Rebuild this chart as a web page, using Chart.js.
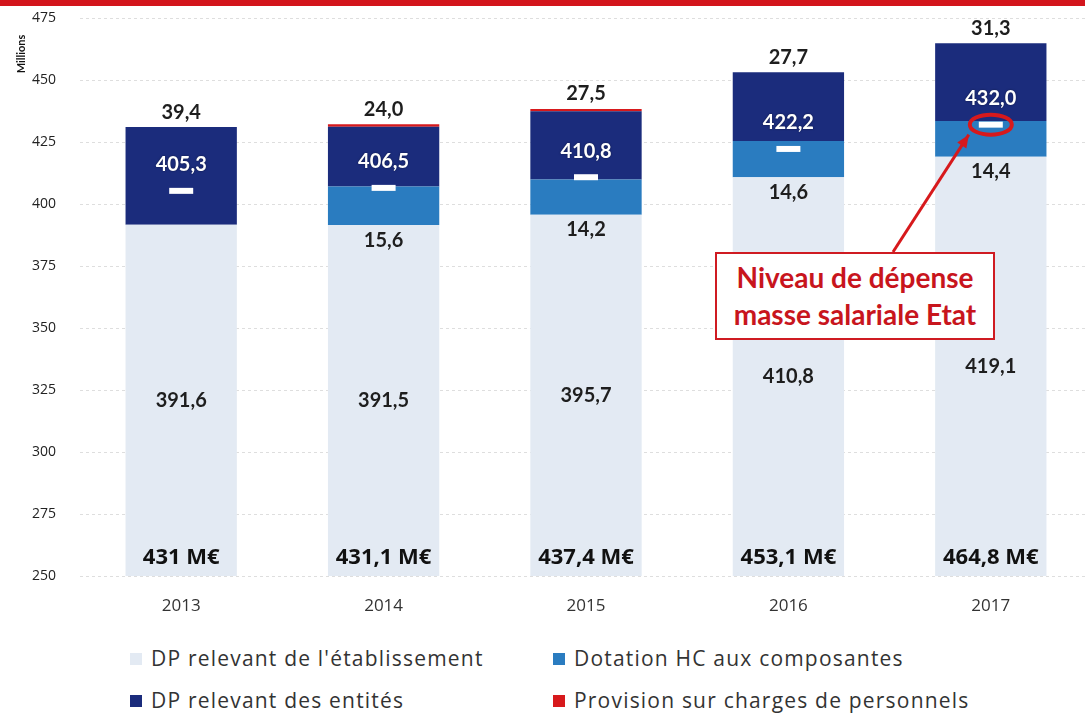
<!DOCTYPE html>
<html>
<head>
<meta charset="utf-8">
<script src="https://cdn.jsdelivr.net/npm/chart.js@4.4.0/dist/chart.umd.min.js"></script>
<style>
  body { margin: 0; background: #fff; width: 1085px; height: 720px; overflow: hidden; position: relative; font-family: 'Open Sans', sans-serif; }
  #topbar { position: absolute; left: 0; top: 0; width: 1085px; height: 6px; background: #d3151c; }
  #wrap { position: absolute; left: 0; top: 0; width: 1110px; height: 630px; }
  #note { position: absolute; left: 715px; top: 252px; width: 280px; height: 88px; box-sizing: border-box;
          border: 2px solid #cf1b22; background: #fff; color: #c8151d; font: bold 28px Lato, sans-serif;
          text-align: center; line-height: 37px; padding-top: 5px; }
  #legend { position: absolute; left: 0; top: 644px; width: 1085px; }
  .item { position: absolute; font-size: 21px; letter-spacing: 1.2px; color: #333; white-space: nowrap; }
  .item span.box { display: inline-block; width: 12px; height: 12px; margin-right: 9px; vertical-align: 1px; }
</style>
</head>
<body>
<div id="topbar"></div>
<div id="wrap"><canvas id="chart"></canvas></div>
<div id="note">Niveau de dépense<br>masse salariale Etat</div>
<div id="legend"></div>
<script>
// categories and series (millions d'euros)
var years = ['2013', '2014', '2015', '2016', '2017'];
var dpEtablissement = [391.6, 391.5, 395.7, 410.8, 419.1];
var dotationHC = [0, 15.6, 14.2, 14.6, 14.4];
var dpEntites = [39.4, 24.0, 27.5, 27.7, 31.3];
var provision = [0, 1.1, 0.9, 0, 0];
var masseEtat = [405.3, 406.5, 410.8, 422.2, 432.0];
var totals = [431, 431.1, 437.4, 453.1, 464.8];
var yMin = 250, yMax = 475, yStep = 25;

var seriesNames = ["DP relevant de l'établissement", 'Dotation HC aux composantes', 'DP relevant des entités', 'Provision sur charges de personnels'];
var colors = ['#e3eaf3', '#2a7cc0', '#1b2c7c', '#d7191c'];

function fr(v, forceDec) {
  if (!forceDec && Number.isInteger(v)) return String(v);
  return v.toFixed(1).replace('.', ',');
}

var labelsPlugin = {
  id: 'labels',
  afterDatasetsDraw: function (chart) {
    var ctx = chart.ctx, area = chart.chartArea;
    var m0 = chart.getDatasetMeta(0), m1 = chart.getDatasetMeta(1), m2 = chart.getDatasetMeta(2), m3 = chart.getDatasetMeta(3), m4 = chart.getDatasetMeta(4);
    ctx.save();
    ctx.textAlign = 'center';
    ctx.textBaseline = 'middle';
    years.forEach(function (yr, i) {
      var x = m0.data[i].x;
      ctx.fillStyle = '#1e1e1e';
      ctx.font = 'bold 20px Lato, sans-serif';
      ctx.fillText(fr(dpEtablissement[i], true), x, (m0.data[i].y + area.bottom) / 2);
      if (dotationHC[i] > 0) ctx.fillText(fr(dotationHC[i], true), x, m1.data[i].base + 15);
      var top = Math.min(m2.data[i].y, m3.data[i].y);
      ctx.fillText(fr(dpEntites[i], true), x, top - 15);
      ctx.font = 'bold 22px "Open Sans", sans-serif';
      ctx.fillStyle = '#111';
      ctx.fillText(fr(totals[i]) + ' M€', x, area.bottom - 18);
      ctx.font = 'bold 20px Lato, sans-serif';
      ctx.fillStyle = '#ffffff';
      ctx.shadowColor = 'rgba(0,0,0,0.5)';
      ctx.shadowBlur = 2;
      ctx.fillText(fr(masseEtat[i], true), x, m4.data[i].y - 26);
      ctx.shadowBlur = 0;
    });
    // highlight on the 2017 marker and arrow to the note
    var last = years.length - 1;
    var ex = m4.data[last].x, ey = m4.data[last].y;
    ctx.strokeStyle = '#d7191c';
    ctx.lineWidth = 4;
    ctx.beginPath();
    ctx.ellipse(ex, ey, 21, 10, 0, 0, Math.PI * 2);
    ctx.stroke();
    var sx = 893, sy = 252, tx = ex - 22, ty = ey + 10;
    ctx.lineWidth = 3;
    ctx.beginPath();
    ctx.moveTo(sx, sy);
    ctx.lineTo(tx, ty);
    ctx.stroke();
    var ang = Math.atan2(ty - sy, tx - sx);
    ctx.fillStyle = '#d7191c';
    ctx.beginPath();
    ctx.moveTo(tx, ty);
    ctx.lineTo(tx - 14 * Math.cos(ang - 0.4), ty - 14 * Math.sin(ang - 0.4));
    ctx.lineTo(tx - 14 * Math.cos(ang + 0.4), ty - 14 * Math.sin(ang + 0.4));
    ctx.closePath();
    ctx.fill();
    // axis unit
    ctx.translate(21, 54);
    ctx.rotate(-Math.PI / 2);
    ctx.fillStyle = '#111';
    ctx.font = 'bold 11px Lato, sans-serif';
    ctx.fillText('Millions', 0, 0);
    ctx.restore();
  }
};

var ctx = document.getElementById('chart');
var chart = new Chart(ctx, {
  type: 'bar',
  data: {
    labels: years,
    datasets: [
      { label: seriesNames[0], data: dpEtablissement, backgroundColor: colors[0], stack: 'dp' },
      { label: seriesNames[1], data: dotationHC, backgroundColor: colors[1], stack: 'dp' },
      { label: seriesNames[2], data: dpEntites, backgroundColor: colors[2], stack: 'dp' },
      { label: seriesNames[3], data: provision, backgroundColor: colors[3], stack: 'dp' },
      { type: 'line', label: 'masse salariale Etat', data: masseEtat, stack: 'etat', order: -1, showLine: false,
        pointStyle: 'line', pointRadius: 12, pointHoverRadius: 12, borderColor: '#ffffff', pointBorderColor: '#ffffff',
        pointBorderWidth: 6, borderWidth: 6 }
    ]
  },
  options: {
    responsive: true,
    maintainAspectRatio: false,
    animation: false,
    layout: { padding: { top: 18, right: 0, left: 32, bottom: 0 } },
    plugins: { legend: { display: false }, tooltip: { enabled: false } },
    datasets: { bar: { barPercentage: 0.55, categoryPercentage: 1 } },
    scales: {
      x: {
        stacked: true,
        grid: { display: false, drawTicks: false },
        border: { display: false },
        ticks: { color: '#333', font: { family: 'Open Sans', size: 17 }, padding: 20 },
        afterFit: function (s) { s.height = 54; }
      },
      y: {
        stacked: true,
        min: yMin, max: yMax,
        grid: { color: 'rgba(0,0,0,0.13)', drawTicks: false },
        border: { display: false, dash: [3, 3] },
        ticks: { stepSize: yStep, color: '#222', font: { family: 'Open Sans', size: 14 }, padding: 0, crossAlign: 'far' },
        afterFit: function (s) { s.width = 48; }
      }
    }
  },
  plugins: [labelsPlugin]
});

// legend in two columns
var legend = document.getElementById('legend');
var legendPos = [[130, 0], [553, 0], [130, 42], [553, 42]];
[0, 1, 2, 3].forEach(function (k) {
  var d = document.createElement('div');
  d.className = 'item';
  d.style.left = legendPos[k][0] + 'px';
  d.style.top = legendPos[k][1] + 'px';
  d.innerHTML = '<span class="box" style="background:' + colors[k] + '"></span>' + seriesNames[k];
  legend.appendChild(d);
});
</script>
</body>
</html>
